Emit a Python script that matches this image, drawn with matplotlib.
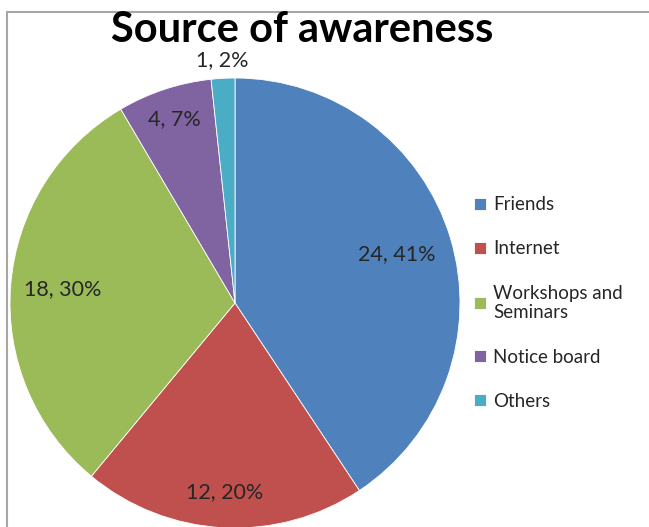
import numpy as np
import matplotlib.pyplot as plt
from matplotlib.patches import Rectangle

categories = ["Friends", "Internet", "Workshops and\nSeminars", "Notice board", "Others"]
counts = [24, 12, 18, 4, 1]
pct_labels = ["41%", "20%", "30%", "7%", "2%"]
colors = ["#4F81BD", "#C0504D", "#9BBB59", "#8064A2", "#4BACC6"]
# how far out each data label sits (fraction of radius)
label_dist = [0.75, 0.84, 0.77, 0.86, 1.08]

plt.rcParams['font.family'] = ['Lato', 'DejaVu Sans']

fig = plt.figure(figsize=(6.49, 5.27), dpi=100)
fig.patch.set_facecolor('white')

# chart frame
fig.patches.append(Rectangle((7 / 649, -0.01), 1.0, 1 - 12 / 527 + 0.01,
                             transform=fig.transFigure, fill=False,
                             edgecolor='#A6A6A6', linewidth=1.5))

ax = fig.add_axes([10 / 649, (527 - 303 - 225) / 527, 450 / 649, 450 / 527])
wedges, _ = ax.pie(counts, colors=colors, startangle=90, counterclock=False,
                   wedgeprops=dict(linewidth=0.6, edgecolor='white'))
ax.set_xlim(-1, 1)
ax.set_ylim(-1, 1)
ax.set_aspect('equal')

for w, n, p, d in zip(wedges, counts, pct_labels, label_dist):
    mid = np.deg2rad((w.theta1 + w.theta2) / 2)
    ax.text(d * np.cos(mid), d * np.sin(mid), "%d, %s" % (n, p),
            ha='center', va='center', fontsize=15.5, color='#262626',
            clip_on=False)

fig.text(0.465, 0.943, "Source of awareness", ha='center', va='center',
         fontsize=30, fontweight='bold', color='black')

leg = fig.legend(wedges, categories, loc='center left',
                 bbox_to_anchor=(0.705, 0.425), frameon=False,
                 fontsize=13.5, handlelength=0.6, handleheight=0.6,
                 handletextpad=0.4, labelspacing=1.45)
for t in leg.get_texts():
    t.set_color('#262626')

fig.savefig('out.png', dpi=100)
